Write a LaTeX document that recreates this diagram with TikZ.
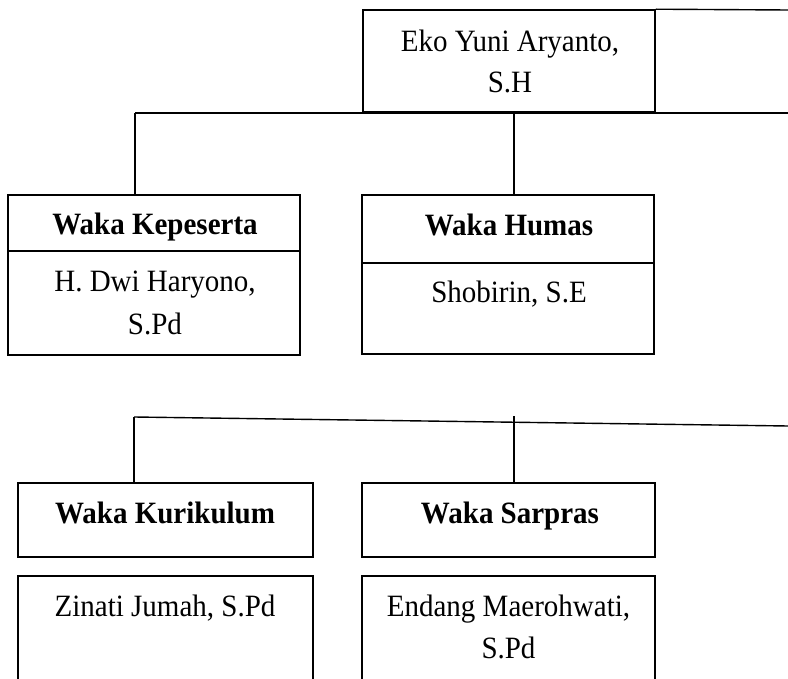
\documentclass[tikz,border=0pt]{standalone}
\usepackage{fontspec}
\usepackage{graphicx}
\setmainfont{Liberation Serif}
\newcommand{\vstr}[1]{\scalebox{1}[1.07]{#1}}
\tikzset{
  box/.style={draw, line width=1.6pt, inner sep=0pt, rectangle},
  conn/.style={line width=1.4pt},
  txt/.style={inner sep=0pt, anchor=base, font=\fontsize{29}{33}\selectfont},
  btxt/.style={inner sep=0pt, anchor=base, font=\fontsize{29}{33}\selectfont\bfseries},
}
\begin{document}
\begin{tikzpicture}[x=1pt,y=-1pt]
\useasboundingbox (0,0) rectangle (788,679);
% boxes
\node[box, minimum width=292pt, minimum height=102pt] (eko) at (509,61) {};
\node[box, minimum width=292pt, minimum height=160pt] (kep) at (154,275) {};
\node[box, minimum width=292pt, minimum height=159pt] (hum) at (508,274.5) {};
\node[box, minimum width=295pt, minimum height=74pt] (kur) at (165.5,520) {};
\node[box, minimum width=293pt, minimum height=74pt] (sar) at (508.5,520) {};
\node[box, minimum width=295pt, minimum height=124pt] (zin) at (165.5,638) {};
\node[box, minimum width=293pt, minimum height=124pt] (end) at (508.5,638) {};
% dividers
\draw[box] (kep.west |- 0,251) -- (kep.east |- 0,251);
\draw[box] (hum.west |- 0,263) -- (hum.east |- 0,263);
% texts
\node[txt] (t1) at (510,52) {\vstr{Eko Yuni Aryanto,}};
\node[txt] (t2) at (510,92.5) {\vstr{S.H}};
\node[btxt] (t3) at (155,235) {\vstr{Waka Kepeserta}};
\node[txt] (t4) at (155,291.5) {\vstr{H. Dwi Haryono,}};
\node[txt] (t5) at (155,334.5) {\vstr{S.Pd}};
\node[btxt] (t6) at (509,236) {\vstr{Waka Humas}};
\node[txt] (t7) at (509,303) {\vstr{Shobirin, S.E}};
\node[btxt] (t8) at (165,523) {\vstr{Waka Kurikulum}};
\node[btxt] (t9) at (510,523) {\vstr{Waka Sarpras}};
\node[txt] (t10) at (165,616.5) {\vstr{Zinati Jumah, S.Pd}};
\node[txt] (t11) at (508.5,616.5) {\vstr{Endang Maerohwati,}};
\node[txt] (t12) at (508.5,658) {\vstr{S.Pd}};
% connector coordinates
\coordinate (a1) at (135,113);
\coordinate (a2) at (788,113);
\coordinate (a3) at (514,113);
\coordinate (a4) at (788,10);
\coordinate (b1) at (134,417);
\coordinate (b2) at (788,426);
\coordinate (b3) at (514,416);
% connectors
\draw[conn] (a1) -- (a2);
\draw[conn] (eko.north east) -- (a4);
\draw[conn] (a1) -- (a1 |- kep.north);
\draw[conn] (a3) -- (a3 |- hum.north);
\draw[conn] (b1) -- (b2);
\draw[conn] (b1) -- (b1 |- kur.north);
\draw[conn] (b3) -- (b3 |- sar.north);
\end{tikzpicture}
\end{document}
